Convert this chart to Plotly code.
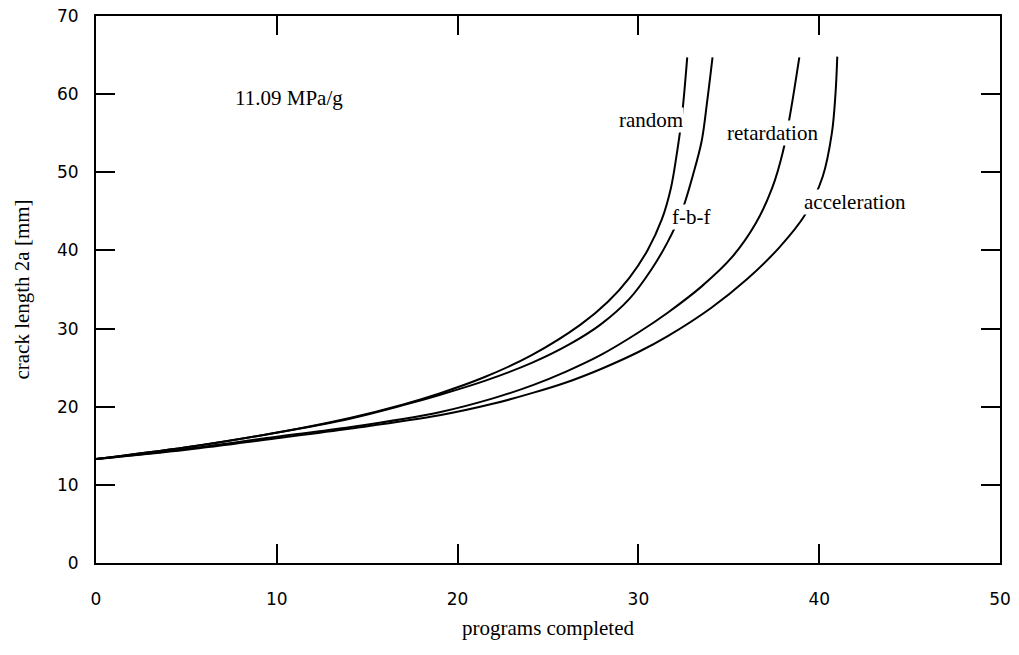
import plotly.graph_objects as go

# programs completed (x) and crack length 2a [mm] (y)
random_x = [0, 5, 9.8, 14.1, 17.0, 19.0, 21.5, 24.1, 26.8, 28.3, 29.5, 30.5, 31.3, 31.8, 32.1, 32.4, 32.7]
random_y = [13.3, 14.8, 16.6, 18.6, 20.3, 21.7, 23.8, 26.6, 30.5, 33.4, 36.5, 40.0, 44.0, 48.0, 52.0, 57.0, 64.7]

fbf_x = [0, 5, 9.8, 14.1, 17.0, 19.0, 21.5, 24.1, 26.2, 27.9, 29.5, 30.7, 31.6, 32.4, 33.0, 33.5, 33.8, 34.1]
fbf_y = [13.3, 14.8, 16.6, 18.5, 20.2, 21.5, 23.3, 25.6, 28.0, 30.5, 33.8, 37.5, 41.0, 45.0, 49.5, 54.0, 59.0, 64.7]

retard_x = [0, 5, 9.8, 14.1, 19.0, 22.0, 24.2, 26.0, 27.9, 30.0, 31.6, 33.5, 35.2, 36.5, 37.4, 38.0, 38.4, 38.9]
retard_y = [13.3, 14.6, 16.1, 17.4, 19.3, 21.1, 22.8, 24.5, 26.6, 29.5, 32.0, 35.4, 39.2, 43.5, 48.0, 52.7, 57.5, 64.7]

accel_x = [0, 5, 9.8, 14.1, 19.0, 22.0, 24.2, 26.0, 27.9, 30.0, 31.6, 34.0, 36.0, 37.8, 39.2, 40.2, 40.7, 40.9, 41.0]
accel_y = [13.3, 14.5, 15.9, 17.2, 18.9, 20.4, 21.8, 23.1, 24.8, 27.0, 29.0, 32.6, 36.3, 40.4, 44.5, 49.5, 55.0, 60.0, 64.8]

x_ticks = [0, 10, 20, 30, 40, 50]
y_ticks = [0, 10, 20, 30, 40, 50, 60, 70]

labels = ["random", "f-b-f", "retardation", "acceleration"]
label_x = [30.7, 32.9, 37.4, 42.0]
label_y = [56.7, 44.3, 55.0, 46.2]

fig = go.Figure()
for xs, ys, name in [(random_x, random_y, "random"), (fbf_x, fbf_y, "f-b-f"),
                     (retard_x, retard_y, "retardation"), (accel_x, accel_y, "acceleration")]:
    fig.add_trace(go.Scatter(x=xs, y=ys, mode="lines", name=name,
                             line=dict(color="black", width=2, shape="spline", smoothing=1.0),
                             showlegend=False))

serif = "Liberation Serif, Times New Roman, serif"
for t, lx, ly in zip(labels, label_x, label_y):
    fig.add_annotation(x=lx, y=ly, text=t, showarrow=False, bgcolor="white",
                       font=dict(family=serif, size=21, color="black"), borderpad=0)

fig.add_annotation(x=10.7, y=59.5, text="11.09 MPa/g", showarrow=False,
                   font=dict(family=serif, size=21, color="black"))

axis_common = dict(showgrid=False, zeroline=False, showline=True, linecolor="black", linewidth=2,
                   mirror="ticks", ticks="inside", ticklen=19, tickwidth=1.5, tickcolor="black",
                   tickfont=dict(family="DejaVu Sans", size=17, color="black"))

fig.update_xaxes(range=[0, 50], tickvals=x_ticks, ticktext=[str(v) for v in x_ticks],
                 ticklabelstandoff=20,
                 title=dict(text="programs completed", font=dict(family=serif, size=21, color="black"), standoff=12),
                 **axis_common)
fig.update_yaxes(range=[0, 70], tickvals=y_ticks, ticktext=[str(v) for v in y_ticks],
                 ticklabelstandoff=12,
                 title=dict(text="crack length 2a [mm]", font=dict(family=serif, size=21, color="black"), standoff=22),
                 **axis_common)

fig.update_layout(width=1019, height=655, plot_bgcolor="white", paper_bgcolor="white",
                  margin=dict(l=96, r=19, t=16, b=92, autoexpand=False))

fig.write_html("out.html")
